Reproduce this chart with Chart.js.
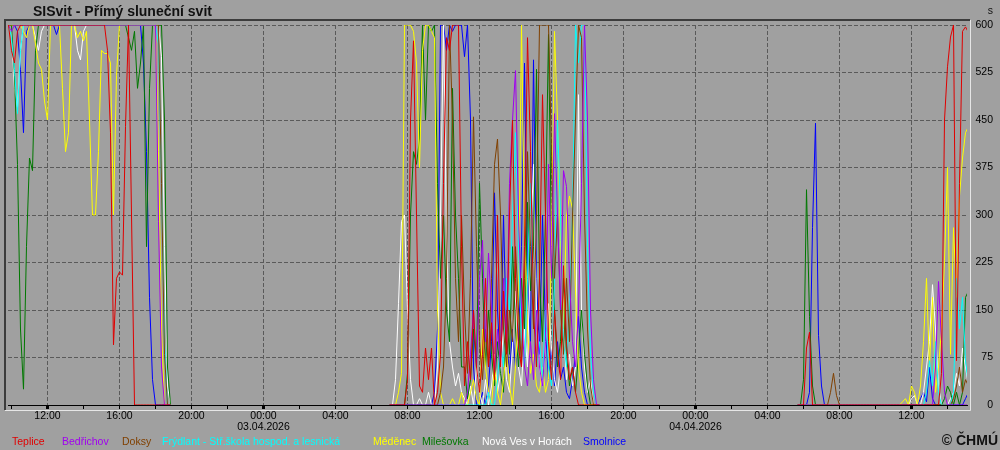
<!DOCTYPE html>
<html>
<head>
<meta charset="utf-8">
<title>SISvit - Přímý sluneční svit</title>
<script src="https://cdn.jsdelivr.net/npm/chart.js@4.4.1/dist/chart.umd.min.js"></script>
<style>
  html, body { margin: 0; padding: 0; background: #a0a0a0; }
</style>
</head>
<body>
<canvas id="sunChart" width="1000" height="450"></canvas>
<script>
const FONT = "'Liberation Sans', Arial, sans-serif";

/* ---------------- DATA ---------------- */

// time in hours from 02.04.2026 00:00, one value every 10 minutes
const STEP_H = 1 / 6;
const DAY_START = [9 + 50 / 60, 31, 53 + 40 / 60];

const STATIONS = ["Teplice", "Bedřichov", "Doksy", "Frýdlant - Stř.škola hospod. a lesnická",
  "Měděnec", "Milešovka", "Nová Ves v Horách", "Smolnice"];
const COLORS = ["#e00000", "#a000f0", "#804000", "#00ffff", "#ffff00", "#007800", "#ffffff", "#0000ff"];
const LEGEND_X = [12, 62, 122, 162, 373, 422, 482, 583];

const MAJOR_TICKS = [12, 16, 20, 24, 28, 32, 36, 40, 44, 48, 52, 56, 60];
const MAJOR_LABELS = ["12:00", "16:00", "20:00", ["00:00", "03.04.2026"], "04:00", "08:00",
  "12:00", "16:00", "20:00", ["00:00", "04.04.2026"], "04:00", "08:00", "12:00"];
const MINOR_TICKS = [10, 14, 18, 22, 26, 30, 34, 38, 42, 46, 50, 54, 58, 62];

// 02.04. 09:50 - 18:50
const teplice1 = [600,560,540,590,600,600,600,600,600,600,
  600,600,600,600,600,600,600,600,600,600,
  600,600,600,600,600,600,600,600,600,600,
  600,600,600,560,430,95,200,210,205,440,
  600,300,0,0,0,0,0,0,0,0,
  0,0,0,0,0];
const bedrichov1 = [600,590,600,600,600,600,600,600,600,600,
  600,600,600,600,600,600,600,600,600,600,
  600,600,600,600,600,600,600,600,600,600,
  600,600,600,600,600,600,600,600,600,600,
  600,600,600,600,600,600,600,600,600,600,
  290,60,0,0,0];
const doksy1 = [600,600,600,600,600,600,600,600,600,600,
  600,600,600,600,600,600,600,600,600,600,
  600,600,600,600,600,600,600,600,600,600,
  600,600,600,600,600,600,600,600,600,600,
  600,600,600,600,600,600,600,600,600,600,
  600,350,80,0,0];
const frydlant1 = [600,580,530,460,560,600,600,600,600,600,
  600,600,600,600,600,600,600,600,600,600,
  600,600,600,600,600,600,600,600,600,600,
  600,600,600,600,600,600,600,600,600,600,
  600,600,600,600,600,600,600,600,600,600,
  570,350,100,0,0];
const medenec1 = [600,600,600,600,600,590,580,600,600,570,
  540,530,480,450,600,600,600,600,500,400,
  430,600,600,580,590,575,590,450,300,300,
  400,560,555,555,540,300,520,600,600,600,
  600,600,600,600,600,600,600,600,600,600,
  400,120,0,0,0];
const milesovka1 = [600,600,520,380,120,25,250,390,370,560,
  600,600,600,600,600,600,600,600,600,600,
  600,600,600,600,600,600,600,600,600,600,
  600,600,600,600,600,600,600,600,600,600,
  580,560,590,500,540,600,250,500,600,600,
  600,600,450,60,0];
const novaves1 = [600,590,500,470,560,600,600,600,600,580,
  560,590,600,600,600,600,600,600,600,600,
  600,600,600,560,545,590,600,600,600,600,
  600,600,600,600,600,600,600,600,600,600,
  600,600,600,600,600,600,600,600,600,600,
  600,550,250,30,0];
const smolnice1 = [600,600,600,590,530,430,590,600,600,600,
  600,600,600,600,600,600,585,600,600,600,
  600,600,600,600,600,600,600,600,600,600,
  600,600,600,600,600,600,600,600,600,600,
  600,600,600,600,600,540,400,170,40,0,
  0,0,0,0,0];

// 03.04. 07:00 - 18:40
const teplice2 = [0,0,0,0,0,0,40,450,575,300,
  30,20,90,40,90,0,20,80,350,580,
  560,600,600,600,250,30,100,40,150,60,
  20,80,200,60,130,40,300,60,180,80,
  300,450,200,90,60,250,580,400,150,60,
  200,490,300,100,40,150,80,40,220,100,
  40,60,20,0,0,0,0,0,0,0,
  0];
const bedrichov2 = [0,0,0,0,0,0,0,0,0,0,
  0,0,0,0,0,0,0,0,0,0,
  0,0,0,0,0,0,20,80,150,60,
  200,260,100,240,150,50,120,60,200,100,
  350,450,528,300,150,60,30,100,40,150,
  60,30,100,380,200,460,300,150,370,345,
  200,100,60,150,350,600,450,150,40,0,
  0];
const doksy2 = [0,0,0,0,0,0,0,0,0,0,
  0,0,0,0,0,0,0,20,60,200,
  600,450,200,100,300,150,50,200,455,250,
  100,40,120,60,200,380,420,300,120,60,
  150,100,250,150,60,200,400,250,120,300,
  600,600,600,600,400,200,300,150,80,200,
  100,300,450,600,580,300,120,30,0,0,
  0];
const frydlant2 = [0,0,0,0,0,0,0,0,0,0,
  0,0,0,0,0,0,0,0,0,0,
  0,0,0,0,0,0,0,0,0,0,
  0,0,0,20,0,0,40,100,60,200,
  150,300,430,250,100,60,200,350,150,60,
  100,40,150,60,30,200,450,300,100,60,
  150,300,600,540,600,600,250,80,20,0,
  0];
const medenec2 = [0,0,0,20,50,600,600,600,590,540,
  375,560,600,600,590,580,150,20,0,0,
  0,10,0,0,20,0,0,20,40,10,
  0,120,60,20,0,60,20,0,40,90,
  30,0,60,150,600,280,120,50,80,30,
  20,60,20,40,250,590,450,260,120,300,
  330,310,180,60,20,0,0,0,0,0,
  0];
const milesovka2 = [0,0,0,0,0,0,50,300,400,380,
  420,600,450,600,590,600,350,200,300,150,
  100,500,300,200,60,60,10,40,120,60,
  350,200,60,150,80,30,100,50,20,150,
  80,250,120,60,200,120,320,180,250,530,
  200,100,300,585,250,150,60,100,200,80,
  30,60,20,80,150,80,30,0,0,0,
  0];
const novaves2 = [0,0,40,160,290,300,150,40,0,0,
  10,0,0,20,0,0,60,300,600,270,
  100,60,30,50,20,10,0,30,0,60,
  20,0,40,0,30,80,20,50,120,40,
  20,90,180,60,30,120,60,250,380,150,
  60,30,100,160,90,40,20,60,120,40,
  80,30,60,490,150,60,20,40,0,0,
  0];
const smolnice2 = [0,0,0,0,0,0,0,0,0,0,
  0,0,0,0,0,20,120,600,600,560,
  600,590,600,600,600,550,600,450,60,0,
  0,20,0,30,100,335,150,60,300,100,
  50,120,60,100,250,540,200,100,545,200,
  80,300,120,40,90,30,100,40,60,20,
  10,40,80,140,60,20,0,0,0,0,
  0];

// 04.04. 05:40 - 15:10
const teplice3 = [0,0,0,90,115,0,0,0,0,0,
  0,0,0,0,0,0,0,0,0,0,
  0,0,0,0,0,0,0,0,0,0,
  0,0,0,0,0,0,0,0,0,0,
  0,0,0,0,0,0,0,0,50,450,
  534,581,600,70,350,590,597,588];
const bedrichov3 = [0,0,0,0,0,0,0,0,0,0,
  0,0,0,0,0,0,0,0,0,0,
  0,0,0,0,0,0,0,0,0,0,
  0,0,0,0,0,0,0,0,0,0,
  0,0,0,0,0,0,60,195,100,20,
  0,0,0,0,0,0,0,0];
const doksy3 = [0,0,0,0,0,0,0,0,0,0,
  0,20,50,15,0,0,0,0,0,0,
  0,0,0,0,0,0,0,0,0,0,
  0,0,0,0,0,0,0,0,0,0,
  0,0,0,0,0,0,0,0,0,0,
  0,0,10,30,60,20,40,30];
const frydlant3 = [0,0,0,0,0,0,0,0,0,0,
  0,0,0,0,0,0,0,0,0,0,
  0,0,0,0,0,0,0,0,0,0,
  0,0,0,0,0,0,0,0,0,0,
  0,0,0,20,70,30,100,20,0,0,
  0,0,20,200,120,170,70,30];
const medenec3 = [0,0,0,0,0,0,0,0,0,0,
  0,0,0,0,0,0,0,0,0,0,
  0,0,0,0,0,0,0,0,0,0,
  0,0,0,0,0,5,10,0,30,20,
  0,30,100,200,60,170,20,60,120,228,
  375,80,280,170,330,390,430,440];
const milesovka3 = [0,0,40,340,140,30,0,0,0,0,
  0,0,0,0,0,0,0,0,0,0,
  0,0,0,0,0,0,0,0,0,0,
  0,0,0,0,0,0,0,0,0,0,
  0,0,0,0,0,0,0,0,0,10,
  30,20,0,20,0,20,170,180];
const novaves3 = [0,0,0,0,0,0,0,0,0,0,
  0,0,0,0,0,0,0,0,0,0,
  0,0,0,0,0,0,0,0,0,0,
  0,0,0,0,0,0,0,0,10,15,
  0,0,20,60,100,190,120,30,0,0,
  0,10,20,50,30,90,60,30];
const smolnice3 = [0,0,0,0,20,280,445,110,30,0,
  0,0,0,0,0,0,0,0,0,0,
  0,0,0,0,0,0,0,0,0,0,
  0,0,0,0,0,0,0,0,0,0,
  0,10,20,5,60,10,0,0,0,0,
  0,0,0,0,0,0,10,20];

const SERIES = [
  [teplice1, teplice2, teplice3],
  [bedrichov1, bedrichov2, bedrichov3],
  [doksy1, doksy2, doksy3],
  [frydlant1, frydlant2, frydlant3],
  [medenec1, medenec2, medenec3],
  [milesovka1, milesovka2, milesovka3],
  [novaves1, novaves2, novaves3],
  [smolnice1, smolnice2, smolnice3]
];

/* ---------------- HELPERS ---------------- */

function buildPoints(days) {
  const pts = [];
  days.forEach((vals, d) => {
    // break the line over the night
    if (d > 0) pts.push({ x: DAY_START[d] - 1, y: null });
    vals.forEach((v, i) => pts.push({ x: DAY_START[d] + i * STEP_H, y: v }));
  });
  return pts;
}

function tickLabel(value) {
  const k = MAJOR_TICKS.indexOf(value);
  return k >= 0 ? MAJOR_LABELS[k] : "";
}

/* ---------------- DECORATION ---------------- */

const framePlugin = {
  id: "frame",
  beforeDraw(chart) {
    const { ctx, chartArea: a } = chart;
    ctx.save();
    ctx.fillStyle = "#a0a0a0";
    ctx.fillRect(0, 0, chart.width, chart.height);

    const l = a.left - 3, t = a.top - 5, r = a.right + 3, b = a.bottom + 5;
    ctx.strokeStyle = "#3c3c3c";
    ctx.lineWidth = 2;
    ctx.beginPath();
    ctx.moveTo(l, b);
    ctx.lineTo(l, t);
    ctx.lineTo(r, t);
    ctx.stroke();
    ctx.strokeStyle = "#e6e6e6";
    ctx.lineWidth = 1;
    ctx.beginPath();
    ctx.moveTo(l, b + 0.5);
    ctx.lineTo(r + 0.5, b + 0.5);
    ctx.lineTo(r + 0.5, t);
    ctx.stroke();
    ctx.restore();
  },
  afterDraw(chart) {
    const ctx = chart.ctx;
    ctx.save();
    ctx.textBaseline = "alphabetic";

    ctx.fillStyle = "#111";
    ctx.font = "bold 14px " + FONT;
    ctx.textAlign = "left";
    ctx.fillText("SISvit - Přímý sluneční svit", 33, 16);

    ctx.font = "10.5px " + FONT;
    ctx.textAlign = "right";
    ctx.fillText("s", 993, 14);

    ctx.textAlign = "left";
    STATIONS.forEach((name, s) => {
      ctx.fillStyle = COLORS[s];
      ctx.fillText(name, LEGEND_X[s], 445);
    });

    ctx.fillStyle = "#111";
    ctx.font = "bold 14px " + FONT;
    ctx.textAlign = "right";
    ctx.fillText("© ČHMÚ", 998, 445);
    ctx.restore();
  }
};

/* ---------------- CHART ---------------- */

const tickFont = { family: FONT, size: 10.5, lineHeight: 1.1 };

new Chart(document.getElementById("sunChart"), {
  type: "line",
  data: {
    datasets: STATIONS.map((name, s) => ({
      label: name,
      data: buildPoints(SERIES[s]),
      borderColor: COLORS[s],
      borderWidth: 1,
      pointRadius: 0,
      tension: 0,
      spanGaps: false
    }))
  },
  options: {
    responsive: false,
    animation: false,
    devicePixelRatio: 1,
    layout: { padding: { left: 8, top: 25, right: 7, bottom: 0 } },
    plugins: { legend: { display: false }, tooltip: { enabled: false } },
    scales: {
      x: {
        type: "linear",
        // 18 px per hour, samples on pixel centres
        min: 9.8056,
        max: 63.083,
        afterBuildTicks: scale => {
          scale.ticks = MINOR_TICKS.concat(MAJOR_TICKS).sort((a, b) => a - b).map(v => ({ value: v }));
        },
        afterFit: scale => { scale.height = 45; },
        ticks: {
          autoSkip: false,
          maxRotation: 0,
          minRotation: 0,
          padding: 1,
          color: "#000",
          font: tickFont,
          callback: value => tickLabel(value)
        },
        grid: {
          color: ctx => (ctx.tick && ctx.tick.value % 4 === 0 ? "#5a5a5a" : "rgba(0,0,0,0)"),
          lineWidth: 1,
          borderDash: [4, 2],
          drawTicks: true,
          tickLength: 4,
          tickColor: "#000",
          tickWidth: ctx => (ctx.tick && ctx.tick.value % 12 === 0 ? 3 : 1)
        },
        border: { display: true, color: "#000", width: 1, dash: [4, 2], z: 1 }
      },
      y: {
        position: "right",
        min: 0,
        max: 600,
        afterFit: scale => { scale.width = 26; },
        ticks: { stepSize: 75, padding: 8, crossAlign: "far", color: "#000", font: tickFont },
        grid: { color: "#5a5a5a", lineWidth: 1, drawTicks: false, borderDash: [4, 2] },
        border: { display: false, dash: [4, 2] }
      }
    }
  },
  plugins: [framePlugin]
});
</script>
</body>
</html>
